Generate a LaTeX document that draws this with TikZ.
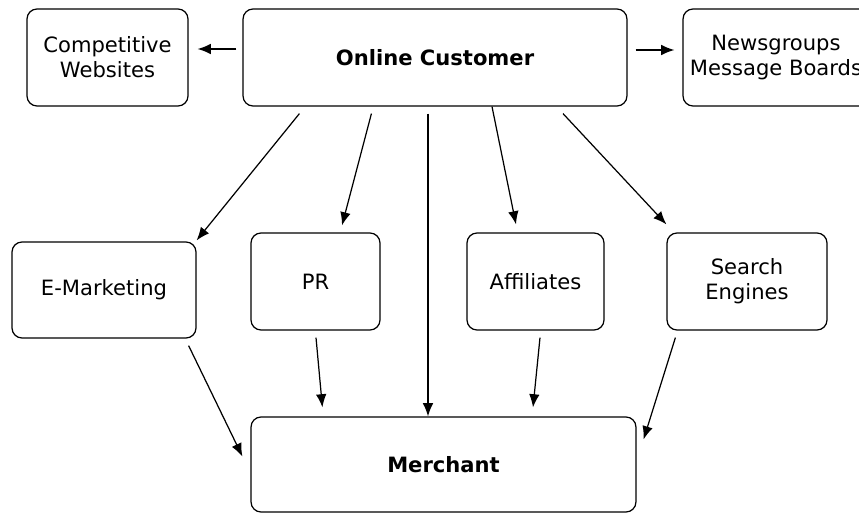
\documentclass[tikz,border=0pt]{standalone}
\usepackage{fontspec}
\setmainfont{DejaVu Sans}
\usetikzlibrary{arrows.meta, calc, positioning}

\begin{document}
\begin{tikzpicture}[x=0.02cm, y=-0.02cm]

\tikzstyle{box}		=[rectangle, rounded corners=0.2cm, draw=black, line width=0.7pt, text centered, align=center, inner sep=0pt, font=\fontsize{12}{14.2}\selectfont]
\tikzstyle{mainbox}	=[box, font=\fontsize{12}{14.2}\selectfont\bfseries]
\tikzstyle{connection}	=[line width=0.7pt, -{Latex[length=7.5pt, width=6pt]}]

\useasboundingbox (0,0) rectangle (859,513);

\node[mainbox, minimum width=7.68cm, minimum height=1.94cm] 	(online)	at (435,57.5)	{Online Customer};
\node[box, minimum width=3.22cm, minimum height=1.94cm] 	(comp)		at (107.5,57.5)	{Competitive\\Websites};
\node[box, minimum width=3.72cm, minimum height=1.94cm] 	(news)		at (776,57.5)	{Newsgroups\\Message Boards};

\node[box, minimum width=3.68cm, minimum height=1.92cm] 	(emkt)		at (104,290)	{E-Marketing};
\node[box, minimum width=2.58cm, minimum height=1.94cm] 	(pr)		at (315.5,281.5)	{PR};
\node[box, minimum width=2.74cm, minimum height=1.94cm] 	(aff)		at (535.5,281.5)	{Affiliates};
\node[box, minimum width=3.20cm, minimum height=1.94cm] 	(search)	at (747,281.5)	{Search\\Engines};

\node[mainbox, minimum width=7.70cm, minimum height=1.90cm] 	(merchant)	at (443.5,464.5)	{Merchant};

\draw [connection]  ($(online.west)+(-6,-8.5)$) -- ($(comp.east)+(9,-8.5)$);
\draw [connection]  ($(online.east)+(8,-7.5)$) -- ($(news.west)+(-8,-7.5)$);

\draw [connection]  ($(online.south west)+(57,7)$) -- ($(emkt.north east)+(0,-1)$);
\draw [connection]  ($(online.south west)+(129,7)$) -- ($(pr.north)+(26.5,-7)$);
\draw [connection]  ($(online.south)+(-7,7)$) -- ($(merchant.north)+(-15.5,0)$);
\draw [connection]  ($(online.south)+(57,0)$) -- ($(aff.north)+(-19.5,-8)$);
\draw [connection]  ($(online.south)+(128,7)$) -- ($(search.north west)+(0,-8)$);

\draw [connection]  ($(emkt.south east)+(-8,7)$) -- ($(merchant.west)+(-8,-8)$);
\draw [connection]  ($(pr.south)+(0.5,7)$) -- ($(merchant.north west)+(72,-9)$);
\draw [connection]  ($(aff.south)+(4.5,7)$) -- ($(merchant.north)+(89.5,-9)$);
\draw [connection]  ($(search.south west)+(9,7)$) -- ($(merchant.north east)+(7,23)$);

\end{tikzpicture}
\end{document}
